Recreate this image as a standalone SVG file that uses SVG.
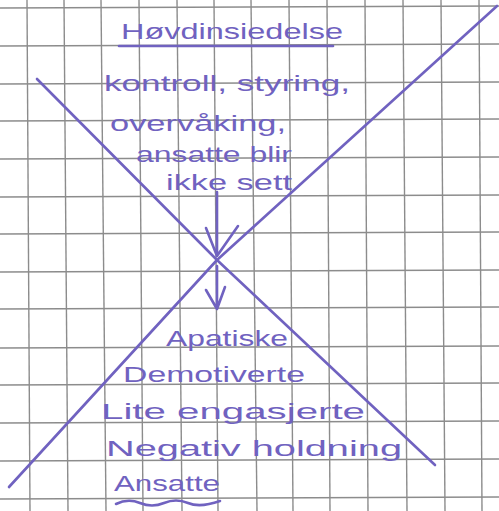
<svg xmlns="http://www.w3.org/2000/svg" width="499" height="511" viewBox="0 0 499 511">
<style>
.grid line{stroke:#8c8c8c;stroke-width:1.4}
.ink{fill:none;stroke:#7062c0;stroke-width:2.6;stroke-linecap:round;stroke-linejoin:round}
text{font-family:"Liberation Sans",Arial,sans-serif;fill:#7062c0;font-size:22px}
</style>
<rect width="499" height="511" fill="#ffffff"/>
<g class="grid">
<line x1="27" y1="0" x2="30" y2="511"/><line x1="64" y1="0" x2="68" y2="511"/><line x1="101" y1="0" x2="106" y2="511"/><line x1="139" y1="0" x2="143" y2="511"/><line x1="177" y1="0" x2="182" y2="511"/><line x1="214" y1="0" x2="218" y2="511"/><line x1="251" y1="0" x2="257" y2="511"/><line x1="289" y1="0" x2="293" y2="511"/><line x1="327" y1="0" x2="330" y2="511"/><line x1="365" y1="0" x2="368" y2="511"/><line x1="403" y1="0" x2="407" y2="511"/><line x1="441" y1="0" x2="445" y2="511"/><line x1="479" y1="0" x2="482" y2="511"/>
<line x1="0" y1="8" x2="499" y2="6"/><line x1="0" y1="46" x2="499" y2="44"/><line x1="0" y1="84" x2="499" y2="82"/><line x1="0" y1="121" x2="499" y2="119"/><line x1="0" y1="159" x2="499" y2="157"/><line x1="0" y1="197" x2="499" y2="195"/><line x1="0" y1="234" x2="499" y2="232"/><line x1="0" y1="272" x2="499" y2="270"/><line x1="0" y1="309" x2="499" y2="307"/><line x1="0" y1="348" x2="499" y2="346"/><line x1="0" y1="385" x2="499" y2="383"/><line x1="0" y1="423" x2="499" y2="421"/><line x1="0" y1="461" x2="499" y2="459"/><line x1="0" y1="499" x2="499" y2="497"/>
</g>
<g id="connectors">
<path class="ink" d="M37 79 L217 260 L435 465"/>
<path class="ink" d="M497 6 L217 260 L9 487"/>
<path class="ink" d="M217 192 L217 256 M206 228 L217 256 L238 226"/>
<path class="ink" d="M217 266 L217 309 M206 290 L217 309 L225 287"/>
</g>
<g id="top">
<text x="121" y="39" font-size="27" textLength="222" lengthAdjust="spacingAndGlyphs">Høvdinsiedelse</text>
<path class="ink" d="M119 46 L333 46"/>
<text x="104" y="91" font-size="25" textLength="246" lengthAdjust="spacingAndGlyphs">kontroll, styring,</text>
<text x="110" y="131" font-size="24" textLength="176" lengthAdjust="spacingAndGlyphs">overvåking,</text>
<text x="136" y="162" font-size="23" textLength="156" lengthAdjust="spacingAndGlyphs">ansatte blir</text>
<text x="166" y="190" font-size="23" textLength="126" lengthAdjust="spacingAndGlyphs">ikke sett</text>
</g>
<g id="bottom">
<text x="166" y="346" font-size="23" textLength="122" lengthAdjust="spacingAndGlyphs">Apatiske</text>
<text x="123" y="382" font-size="24" textLength="182" lengthAdjust="spacingAndGlyphs">Demotiverte</text>
<text x="101" y="419" font-size="24" textLength="264" lengthAdjust="spacingAndGlyphs">Lite engasjerte</text>
<text x="106" y="456" font-size="24" textLength="296" lengthAdjust="spacingAndGlyphs">Negativ holdning</text>
<text x="114" y="491" font-size="24" textLength="106" lengthAdjust="spacingAndGlyphs">Ansatte</text>
<path class="ink" d="M116 504 Q128 498 140 503 T164 503 T188 503 T220 501"/>
</g>
</svg>
